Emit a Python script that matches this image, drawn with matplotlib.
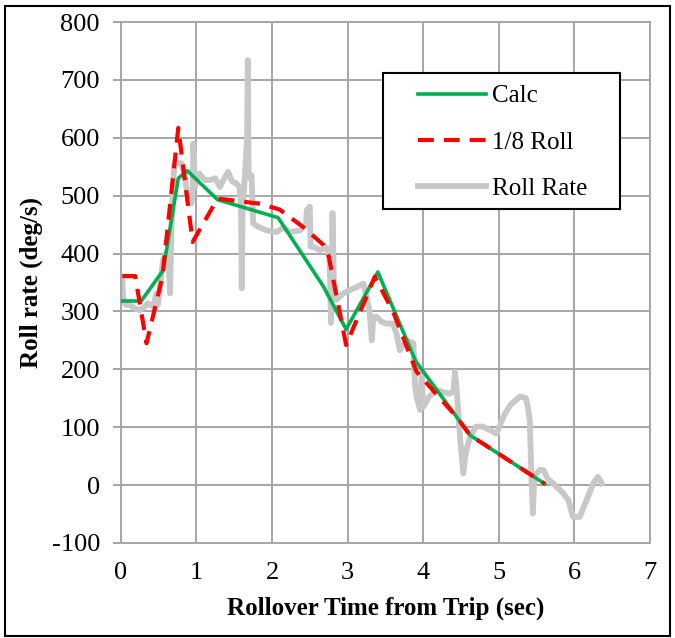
import matplotlib
matplotlib.use("Agg")
import matplotlib.pyplot as plt
from matplotlib.patches import Rectangle

plt.rcParams['font.family'] = ['Liberation Serif', 'DejaVu Serif']
plt.rcParams['axes.unicode_minus'] = False

# Calc (green)
calc_t = [0.02, 0.27, 0.56, 0.76, 0.88, 1.28, 2.08, 2.68, 2.98, 3.40, 3.90, 4.62, 5.61]
calc_v = [318, 318, 371, 530, 543, 493, 462, 343, 269, 368, 214, 86, 2]

# 1/8 Roll (red dashed)
eighth_t = [0.02, 0.19, 0.34, 0.55, 0.76, 0.95, 1.28, 1.84, 2.10, 2.41, 2.68, 2.75, 2.98, 3.36, 3.60, 3.91, 4.44, 4.62, 5.61]
eighth_v = [361, 361, 245, 360, 617, 420, 495, 486, 476, 446, 415, 395, 242, 360, 300, 196, 118, 86, 2]

# Roll Rate (measured, grey)
roll_t = [0.00, 0.02, 0.03, 0.06, 0.12, 0.19, 0.25, 0.30, 0.36, 0.43, 0.47, 0.49, 0.52, 0.56, 0.60,
          0.63, 0.65, 0.67, 0.69, 0.71, 0.74, 0.80, 0.85, 0.89, 0.93, 0.95, 0.96, 0.98, 1.04, 1.11,
          1.18, 1.25, 1.31, 1.36, 1.42, 1.47, 1.53, 1.57, 1.59, 1.60, 1.61, 1.64, 1.67, 1.68, 1.69,
          1.71, 1.73, 1.75, 1.82, 1.93, 2.06, 2.15, 2.24, 2.37, 2.45, 2.46, 2.50, 2.51, 2.54, 2.63,
          2.72, 2.76, 2.78, 2.80, 2.82, 2.85, 2.94, 3.03, 3.12, 3.21, 3.25, 3.29, 3.32, 3.34, 3.38,
          3.45, 3.51, 3.60, 3.65, 3.69, 3.78, 3.87, 3.89, 3.91, 3.96, 3.98, 4.00, 4.08, 4.18, 4.28,
          4.35, 4.40, 4.42, 4.44, 4.49, 4.53, 4.55, 4.57, 4.62, 4.70, 4.79, 4.88, 4.97, 5.06, 5.15,
          5.28, 5.36, 5.39, 5.41, 5.43, 5.45, 5.47, 5.50, 5.54, 5.59, 5.65, 5.72, 5.85, 5.92, 5.98,
          6.07, 6.16, 6.25, 6.31, 6.34, 6.36]
roll_v = [360, 354, 325, 312, 311, 305, 302, 306, 314, 308, 331, 312, 345, 389, 400,
          406, 331, 440, 520, 556, 556, 556, 532, 492, 486, 500, 590, 515, 538, 527,
          527, 530, 515, 528, 541, 525, 521, 515, 480, 340, 470, 532, 600, 734, 540,
          530, 535, 452, 446, 440, 437, 445, 437, 440, 450, 475, 481, 412, 412, 406,
          410, 400, 280, 470, 340, 320, 331, 337, 342, 348, 325, 300, 250, 290, 291,
          282, 279, 279, 260, 233, 250, 245, 176, 153, 130, 193, 135, 153, 164, 160,
          158, 162, 196, 170, 78, 20, 43, 60, 83, 101, 101, 95, 89, 118, 138,
          153, 150, 130, 110, 20, -49, 15, 20, 26, 26, 10, 3, -14, -26, -55,
          -55, -26, 3, 14, 8, 3]

x_ticks = [0, 1, 2, 3, 4, 5, 6, 7]
y_ticks = [-100, 0, 100, 200, 300, 400, 500, 600, 700, 800]

grid_col = '#a6a6a6'

fig = plt.figure(figsize=(6.75, 6.38), dpi=100)
ax = fig.add_axes([0.179, 0.149, 0.784, 0.8165])

ax.plot(roll_t, roll_v, color='#c8c8c8', lw=4.2, label='Roll Rate', zorder=2)
ax.plot(calc_t, calc_v, color='#00b050', lw=2.6, label='Calc', zorder=3)
ax.plot(eighth_t, eighth_v, color='#ff0000', lw=3, dashes=(3.8, 2.4), label='1/8 Roll', zorder=4)

ax.set_xlim(0, 7)
ax.set_ylim(-100, 800)
ax.set_xticks(x_ticks)
ax.set_yticks(y_ticks)
ax.grid(True, color=grid_col, lw=1.4)
ax.set_axisbelow(True)
for s in ax.spines.values():
    s.set_color(grid_col)
    s.set_linewidth(1.4)
ax.tick_params(axis='x', length=0, pad=14, labelsize=19)
ax.tick_params(axis='y', length=6, width=1.4, color=grid_col, pad=9, labelsize=19)

ax.set_xlabel('Rollover Time from Trip (sec)', fontsize=18, fontweight='bold', labelpad=9)
ax.set_ylabel('Roll rate (deg/s)', fontsize=18, fontweight='bold', labelpad=6)

# legend box drawn separately so the entries can sit well inside it
ax.add_patch(Rectangle((383 / 675, 1 - 209 / 638), 237 / 675, 136 / 638, transform=fig.transFigure,
                       facecolor='white', edgecolor='black', lw=1.5, zorder=5, clip_on=False))
handles, labels = ax.get_legend_handles_labels()
order = [1, 2, 0]
leg = ax.legend([handles[i] for i in order], [labels[i] for i in order],
                loc='upper left', bbox_to_anchor=(418 / 675, 1 - 85 / 638), bbox_transform=fig.transFigure,
                borderaxespad=0, borderpad=0, fontsize=18, frameon=False,
                handlelength=2.7, handletextpad=0.25, labelspacing=0.95)
leg.set_zorder(6)

fig.patches.append(Rectangle((0.0074, 0.003), 0.985, 0.988, transform=fig.transFigure,
                             fill=False, edgecolor='black', lw=1.5))

fig.savefig('out.png', dpi=100)
